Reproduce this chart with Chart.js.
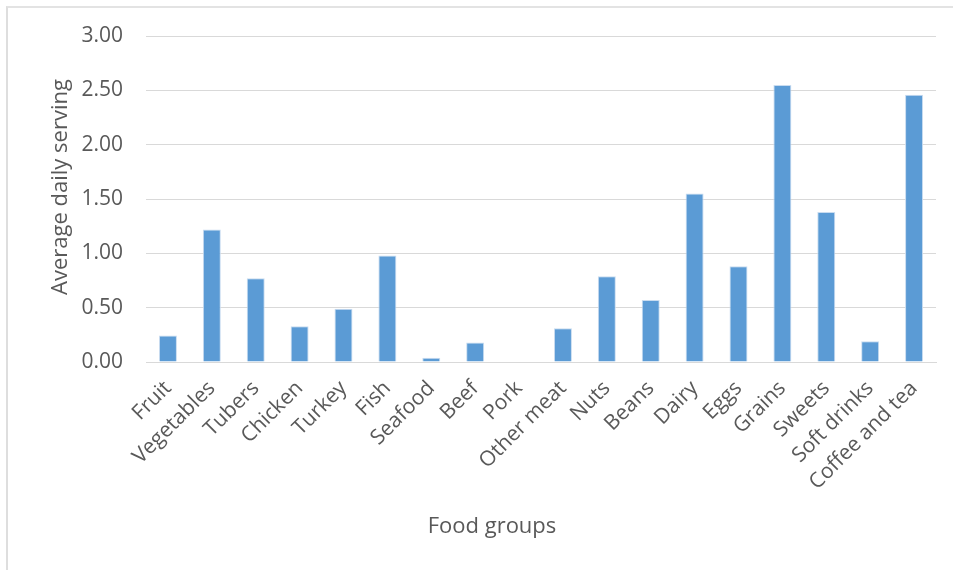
<!DOCTYPE html>
<html>
<head>
<meta charset="utf-8">
<script src="https://cdn.jsdelivr.net/npm/chart.js@4/dist/chart.umd.min.js"></script>
<style>
html,body{margin:0;padding:0;background:#fff;}
#wrap{position:relative;width:953px;height:570px;overflow:hidden;}
#frame{position:absolute;left:6px;top:6px;width:960px;height:600px;border-left:2px solid #dedede;border-top:2px solid #e3e3e3;box-sizing:border-box;}
canvas{position:absolute;left:0;top:0;}
</style>
</head>
<body>
<div id="wrap">
<div id="frame"></div>
<canvas id="c" width="953" height="570"></canvas>
</div>
<script>
const categories = ["Fruit","Vegetables","Tubers","Chicken","Turkey","Fish","Seafood","Beef","Pork","Other meat","Nuts","Beans","Dairy","Eggs","Grains","Sweets","Soft drinks","Coffee and tea"];
const servings = [0.245,1.22,0.77,0.33,0.49,0.98,0.04,0.18,0,0.31,0.79,0.57,1.55,0.88,2.55,1.38,0.19,2.46];
const yTicks = [0,0.5,1,1.5,2,2.5,3];
const xTitle = "Food groups";
const yTitle = "Average daily serving";

const FONT = "'Open Sans', 'Noto Sans', sans-serif";
const TXT = '#595959';

const axisTitles = {
  id: 'axisTitles',
  afterDraw(chart) {
    const {ctx, chartArea: a} = chart;
    ctx.save();
    ctx.fillStyle = TXT;
    ctx.font = "22px " + FONT;
    ctx.textAlign = 'center';
    ctx.textBaseline = 'middle';
    ctx.fillText(xTitle, (a.left + a.right) / 2 - 49, a.bottom + 165);
    ctx.translate(a.left - 85, (a.top + a.bottom) / 2 - 12);
    ctx.rotate(-Math.PI / 2);
    ctx.fillText(yTitle, 0, 0);
    ctx.restore();
  }
};

new Chart(document.getElementById('c'), {
  type: 'bar',
  data: {
    labels: categories,
    datasets: [{
      data: servings,
      backgroundColor: '#5b9bd5',
      borderColor: '#c9dcf0',
      borderWidth: 1,
      barPercentage: 0.41,
      categoryPercentage: 1
    }]
  },
  plugins: [axisTitles],
  options: {
    responsive: false,
    animation: false,
    layout: {padding: {top: 36, left: 8, right: 17, bottom: 0}},
    plugins: {legend: {display: false}, tooltip: {enabled: false}},
    scales: {
      x: {
        grid: {display: false, drawTicks: false},
        border: {color: '#d9d9d9', width: 1},
        ticks: {
          autoSkip: false, maxRotation: 45, minRotation: 45,
          color: TXT, font: {family: FONT, size: 21}, padding: 14
        },
        afterFit: s => { s.height = 208; }
      },
      y: {
        min: 0, max: 3,
        afterBuildTicks: s => { s.ticks = yTicks.map(v => ({value: v})); },
        grid: {color: '#d9d9d9', lineWidth: 1, drawTicks: false},
        border: {display: false},
        ticks: {
          color: TXT, font: {family: FONT, size: 21}, padding: 23,
          callback: v => Number(v).toFixed(2)
        },
        afterFit: s => { s.width = 138; }
      }
    }
  }
});
</script>
</body>
</html>
